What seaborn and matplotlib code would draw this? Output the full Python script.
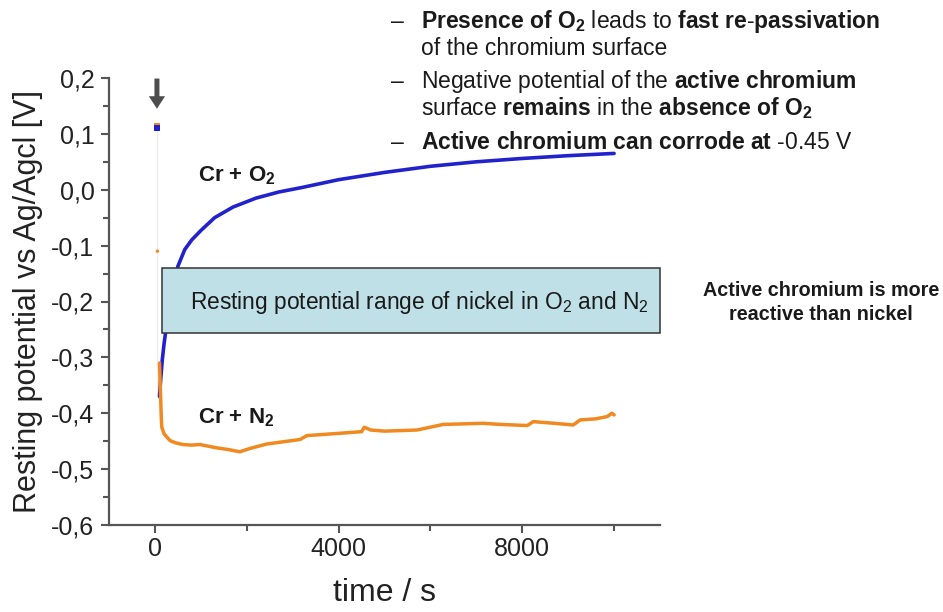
import numpy as np
import pandas as pd
import matplotlib
matplotlib.use("Agg")
import matplotlib.pyplot as plt
import seaborn as sns
from matplotlib.patches import Rectangle
from matplotlib.ticker import FixedLocator, FuncFormatter

# ---------------- data ----------------
time_o2 = [100, 130, 160, 200, 250, 300, 400, 500, 650, 800, 1000, 1300, 1700,
           2200, 2700, 3200, 4000, 5000, 6000, 7000, 8000, 9000, 10000]
pot_o2 = [-0.37, -0.335, -0.305, -0.275, -0.245, -0.22, -0.175, -0.137, -0.107,
          -0.09, -0.073, -0.05, -0.031, -0.015, -0.004, 0.004, 0.018, 0.031,
          0.042, 0.05, 0.056, 0.061, 0.065]

time_n2 = [100, 120, 140, 150, 200, 330, 450, 610, 800, 980, 1350, 1600, 1850,
           2070, 2440, 3160, 3310, 4000, 4500, 4560, 4700, 5000, 5710, 6280,
           7150, 7520, 8110, 8240, 8700, 9110, 9260, 9600, 9850, 9950, 10000]
pot_n2 = [-0.31, -0.36, -0.41, -0.425, -0.437, -0.449, -0.453, -0.456, -0.457,
          -0.456, -0.462, -0.465, -0.469, -0.463, -0.455, -0.447, -0.44,
          -0.436, -0.433, -0.425, -0.43, -0.432, -0.43, -0.42, -0.418, -0.42,
          -0.422, -0.415, -0.418, -0.421, -0.412, -0.41, -0.406, -0.40, -0.403]

start_time = [50]
start_o2 = [0.111]
start_n2 = [0.115]
drop_time = [50, 50]
drop_pot = [0.113, -0.37]
stray_time = [55]
stray_pot = [-0.11]

x_major = [0, 4000, 8000]
x_minor = [2000, 6000, 10000]
y_major = [-0.6, -0.5, -0.4, -0.3, -0.2, -0.1, 0.0, 0.1, 0.2]
y_minor = [-0.55, -0.45, -0.35, -0.25, -0.15, -0.05, 0.05, 0.15]

label_o2 = "Cr + O$_\\mathbf{2}$"
label_n2 = "Cr + N$_\\mathbf{2}$"
box_text = "Resting potential range of nickel in O$_2$ and N$_2$"
side_text = ["Active chromium is more", "reactive than nickel"]
bullets = [
    r"$\mathbf{Presence\ of\ O_2}$ leads to $\mathbf{fast\ re}$-$\mathbf{passivation}$",
    "of the chromium surface",
    r"Negative potential of the $\mathbf{active\ chromium}$",
    r"surface $\mathbf{remains}$ in the $\mathbf{absence\ of\ O_2}$",
    r"$\mathbf{Active\ chromium\ can\ corrode\ at}$ -0.45 V",
]
dash_lines = [0, 2, 4]

# ---------------- style ----------------
sns.set_style("ticks")
plt.rcParams["font.family"] = ["Liberation Sans", "DejaVu Sans"]
plt.rcParams["mathtext.fontset"] = "custom"
plt.rcParams["mathtext.rm"] = "Liberation Sans"
plt.rcParams["mathtext.it"] = "Liberation Sans:italic"
plt.rcParams["mathtext.bf"] = "Liberation Sans:bold"
plt.rcParams["mathtext.sf"] = "Liberation Sans"

W, H = 943, 612
fig = plt.figure(figsize=(W / 100, H / 100), dpi=100)
fig.patch.set_facecolor("white")
ax = fig.add_axes([109 / W, 87 / H, 551 / W, 447 / H])
ax.set_facecolor("white")

BLUE = "#2222cc"
ORANGE = "#f0891f"
SPINE = "#555555"

# vertical drop at start
sns.lineplot(x=drop_time, y=drop_pot, ax=ax, color="#a8a8a8", lw=1.0, sort=False)
sns.lineplot(x=time_o2, y=pot_o2, ax=ax, color=BLUE, lw=2.6)
sns.lineplot(x=time_n2, y=pot_n2, ax=ax, color=ORANGE, lw=2.5)
sns.scatterplot(x=start_time, y=start_n2, ax=ax, color=ORANGE, marker="s", s=16,
                edgecolor="none", zorder=5)
sns.scatterplot(x=start_time, y=start_o2, ax=ax, color=BLUE, marker="s", s=16,
                edgecolor="none", zorder=5)
sns.scatterplot(x=stray_time, y=stray_pot, ax=ax, color=ORANGE, marker="o", s=6,
                edgecolor="none", zorder=5)

ax.set_xlim(-1000, 11000)
ax.set_ylim(-0.6, 0.2)
sns.despine(ax=ax)
for side in ("left", "bottom"):
    ax.spines[side].set_color(SPINE)
    ax.spines[side].set_linewidth(1.6)

ax.xaxis.set_major_locator(FixedLocator(x_major))
ax.xaxis.set_minor_locator(FixedLocator(x_minor))
ax.yaxis.set_major_locator(FixedLocator(y_major))
ax.yaxis.set_minor_locator(FixedLocator(y_minor))
ax.xaxis.set_major_formatter(FuncFormatter(lambda v, p: f"{int(v)}"))
ax.yaxis.set_major_formatter(
    FuncFormatter(lambda v, p: ("0,0" if abs(v) < 1e-9 else f"{v:.1f}".replace(".", ","))))
ax.tick_params(axis="both", which="major", direction="out", length=5.5, width=1.5,
               color=SPINE, labelsize=18, labelcolor="#222222")
ax.tick_params(axis="both", which="minor", direction="out", length=4.5, width=1.5,
               color=SPINE)
ax.tick_params(axis="x", which="major", pad=3)
ax.tick_params(axis="y", which="major", pad=5)

ax.set_xlabel("time / s", fontsize=23, color="#222222")
ax.set_ylabel("Resting potential vs Ag/Agcl [V]", fontsize=22, color="#222222")
ax.xaxis.set_label_coords(0.5, -0.1186)
ax.yaxis.set_label_coords(-0.12, 0.5)

# arrow marking the start
ax.annotate("", xy=(44, 0.145), xytext=(44, 0.199),
            arrowprops=dict(arrowstyle="simple,head_length=0.5,head_width=0.65,tail_width=0.2",
                            mutation_scale=18, color="#4d4d4d", lw=0,
                            shrinkA=0, shrinkB=0),
            annotation_clip=False)

# curve labels
ax.text(937, 0.0152, label_o2, fontsize=16, fontweight="bold", color="#1a1a1a",
        va="baseline", ha="left")
ax.text(937, -0.419, label_n2, fontsize=16, fontweight="bold", color="#1a1a1a",
        va="baseline", ha="left")

# nickel range box
rect = Rectangle((153, -0.2556), 11007 - 153, -0.1408 + 0.2556, facecolor="#bfe0e6",
                 edgecolor="#333333", lw=1.1, zorder=6, clip_on=False)
ax.add_patch(rect)
ax.text(763, -0.2126, box_text, fontsize=16.4, color="#1a1a1a", va="baseline",
        ha="left", zorder=7)

# side note
for txt, yb in zip(side_text, [296, 320]):
    fig.text(821 / W, 1 - yb / H, txt, fontsize=14.2, fontweight="bold",
             color="#1a1a1a", ha="center", va="baseline")

# bullet list
baselines = [28, 55, 88, 115, 149]
for i, (txt, yb) in enumerate(zip(bullets, baselines)):
    fig.text(421 / W, 1 - yb / H, txt, fontsize=16.5, color="#1a1a1a",
             ha="left", va="baseline")
    if i in dash_lines:
        fig.text(391 / W, 1 - yb / H, "\u2013", fontsize=16.5, color="#1a1a1a",
                 ha="left", va="baseline")

fig.savefig("out.png", dpi=100, facecolor="white")
